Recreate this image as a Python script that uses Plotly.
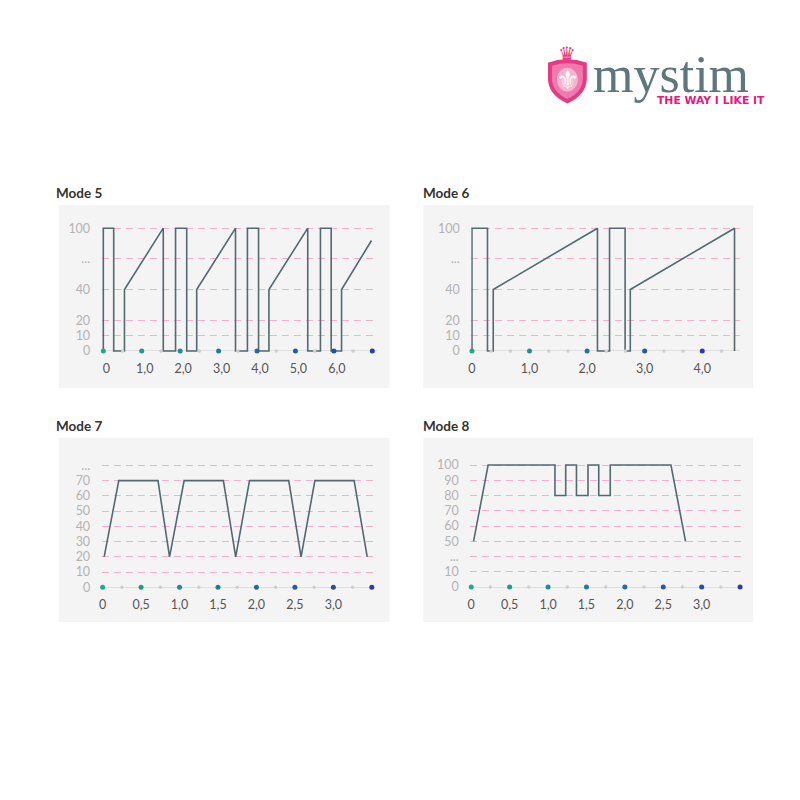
import numpy as np
import plotly.graph_objects as go

# ---------------- data ----------------
mode5_time = [0, 0, 0.27, 0.27, 0.55, 0.55, 1.56, 1.56, 1.88, 1.88, 2.17, 2.17, 2.43, 2.43,
              3.44, 3.44, 3.75, 3.75, 4.04, 4.04, 4.31, 4.31, 5.32, 5.32, 5.65, 5.65, 5.93,
              5.93, 6.20, 6.20, 6.98]
mode5_level = [0, 100, 100, 0, 0, 40, 100, 0, 0, 100, 100, 0, 0, 40, 100, 0, 0, 100, 100, 0,
               0, 40, 100, 0, 0, 100, 100, 0, 0, 40, 88]

mode6_time = [0, 0, 0.27, 0.27, 0.37, 0.37, 2.18, 2.18, 2.39, 2.39, 2.66, 2.66, 2.75, 2.75,
              4.56, 4.56]
mode6_level = [0, 100, 100, 0, 0, 40, 100, 0, 0, 100, 100, 0, 0, 40, 100, 0]

mode7_time = [0.02, 0.21, 0.72, 0.87, 1.06, 1.57, 1.73, 1.91, 2.42, 2.58, 2.76, 3.27, 3.44]
mode7_level = [20, 70, 70, 20, 70, 70, 20, 70, 70, 20, 70, 70, 20]

mode8_time = [0.03, 0.22, 1.09, 1.09, 1.23, 1.23, 1.37, 1.37, 1.52, 1.52, 1.66, 1.66, 1.81,
              1.81, 2.60, 2.79]
mode8_level = [50, 100, 100, 80, 80, 100, 100, 80, 80, 100, 100, 80, 80, 100, 100, 50]

# y scales: intensity levels -> evenly spaced rows
mode56_levels = [0, 10, 20, 40, 100]
mode56_rows = [0, 1, 2, 4, 8]
mode56_ytext = ["0", "10", "20", "40", "...", "100"]
mode56_yrows = [0, 1, 2, 4, 6, 8]

mode7_levels = [0, 10, 20, 30, 40, 50, 60, 70, 80]
mode7_rows = [0, 1, 2, 3, 4, 5, 6, 7, 8]
mode7_ytext = ["0", "10", "20", "30", "40", "50", "60", "70", "..."]
mode7_yrows = [0, 1, 2, 3, 4, 5, 6, 7, 8]

mode8_levels = [0, 10, 50, 100]
mode8_rows = [0, 1, 3, 8]
mode8_ytext = ["0", "10", "...", "50", "60", "70", "80", "90", "100"]
mode8_yrows = [0, 1, 2, 3, 4, 5, 6, 7, 8]

# x ticks
mode5_xticks = [0, 1, 2, 3, 4, 5, 6, 7]
mode5_xtext = ["0", "1,0", "2,0", "3,0", "4,0", "5,0", "6,0", ""]
mode5_minor = [0.5, 1.5, 2.5, 3.5, 4.5, 5.5, 6.5]

mode6_xticks = [0, 1, 2, 3, 4]
mode6_xtext = ["0", "1,0", "2,0", "3,0", "4,0"]
mode6_minor = [1/3, 2/3, 4/3, 5/3, 7/3, 8/3, 10/3, 11/3, 13/3]

mode78_xticks = [0, 0.5, 1, 1.5, 2, 2.5, 3, 3.5]
mode78_xtext = ["0", "0,5", "1,0", "1,5", "2,0", "2,5", "3,0", ""]
mode78_minor = [0.25, 0.75, 1.25, 1.75, 2.25, 2.75, 3.25]

titles = ["Mode 5", "Mode 6", "Mode 7", "Mode 8"]

# ---------------- styles / layout ----------------
W = H = 800
LINE_COLOR = "#51696f"
GRID_COLOR = "#f4b0cf"
PANEL_BG = "#f5f4f5"
ZERO_COLOR = "#dfdfdf"
FONT = "Lato, 'Open Sans', sans-serif"
C0 = np.array([30, 170, 134])
C1 = np.array([42, 62, 160])


def grad(n):
    out = []
    for i in range(n):
        f = i / (n - 1)
        c = C0 + (C1 - C0) * f
        out.append("rgb(%d,%d,%d)" % tuple(c))
    return out


panels = [
    dict(title=titles[0], t=mode5_time, lv=mode5_level, levels=mode56_levels, rows=mode56_rows,
         ytext=mode56_ytext, yrows=mode56_yrows, xt=mode5_xticks, xtx=mode5_xtext, minor=mode5_minor,
         x0=100.7, ppu=38.57, xl=99, xr=375, y0=352.7, rowpx=15.42, yt=222, shift=3,
         bg=(56, 206, 388, 390), tpos=(51, 193.5)),
    dict(title=titles[1], t=mode6_time, lv=mode6_level, levels=mode56_levels, rows=mode56_rows,
         ytext=mode56_ytext, yrows=mode56_yrows, xt=mode6_xticks, xtx=mode6_xtext, minor=mode6_minor,
         x0=470.7, ppu=57.8, xl=470, xr=740, y0=352.7, rowpx=15.42, yt=222, shift=0,
         bg=(422, 206, 753, 390), tpos=(420, 193.5)),
    dict(title=titles[2], t=mode7_time, lv=mode7_level, levels=mode7_levels, rows=mode7_rows,
         ytext=mode7_ytext, yrows=mode7_yrows, xt=mode78_xticks, xtx=mode78_xtext, minor=mode78_minor,
         x0=100.0, ppu=77.2, xl=99, xr=372, y0=590.3, rowpx=15.33, yt=458, shift=0,
         bg=(56, 440, 388, 625), tpos=(51, 428.5)),
    dict(title=titles[3], t=mode8_time, lv=mode8_level, levels=mode8_levels, rows=mode8_rows,
         ytext=mode8_ytext, yrows=mode8_yrows, xt=mode78_xticks, xtx=mode78_xtext, minor=mode78_minor,
         x0=470.0, ppu=77.1, xl=469, xr=741, y0=590.0, rowpx=15.33, yt=458, shift=0,
         bg=(422, 440, 753, 625), tpos=(420, 428.5)),
]

fig = go.Figure()
shapes = []
annotations = []
layout_axes = {}

for i, p in enumerate(panels):
    k = "" if i == 0 else str(i + 1)
    xa, ya = "x" + k, "y" + k
    yb = p["y0"] + 3
    xdom = [p["xl"] / W, p["xr"] / W]
    xrng = [(p["xl"] - p["x0"]) / p["ppu"], (p["xr"] - p["x0"]) / p["ppu"]]
    ydom = [1 - yb / H, 1 - p["yt"] / H]
    yrng = [(p["y0"] - yb) / p["rowpx"], (p["y0"] - p["yt"]) / p["rowpx"]]

    xdict = dict(
        domain=xdom, range=xrng, anchor=ya, showgrid=False, zeroline=False, showline=False,
        tickmode="array", tickvals=p["xt"], ticktext=p["xtx"], ticks="outside", ticklen=3,
        tickcolor="rgba(0,0,0,0)", tickfont=dict(family=FONT, size=12.5, color="#555555"),
        fixedrange=True)
    if p["shift"]:
        xdict["ticklabelshift"] = p["shift"]
    layout_axes["xaxis" + k] = xdict
    layout_axes["yaxis" + k] = dict(
        domain=ydom, range=yrng, anchor=xa, showgrid=True, gridcolor=GRID_COLOR, gridwidth=1,
        griddash="7px,5px", zeroline=True, zerolinecolor=ZERO_COLOR, zerolinewidth=1,
        showline=False, tickmode="array", tickvals=p["yrows"], ticktext=p["ytext"],
        ticks="outside", ticklen=8, tickcolor="rgba(0,0,0,0)",
        tickfont=dict(family=FONT, size=12.5, color="#b3b3b3"), fixedrange=True)

    yrow = np.interp(p["lv"], p["levels"], p["rows"])
    fig.add_trace(go.Scatter(x=p["t"], y=yrow, mode="lines", xaxis=xa, yaxis=ya,
                             line=dict(color=LINE_COLOR, width=1.6), showlegend=False,
                             hoverinfo="skip"))
    fig.add_trace(go.Scatter(x=p["minor"], y=[0] * len(p["minor"]), mode="markers",
                             xaxis=xa, yaxis=ya, cliponaxis=False,
                             marker=dict(size=3.5, color="#cfcfcf"), showlegend=False,
                             hoverinfo="skip"))
    fig.add_trace(go.Scatter(x=p["xt"], y=[0] * len(p["xt"]), mode="markers",
                             xaxis=xa, yaxis=ya, cliponaxis=False,
                             marker=dict(size=5, color=grad(len(p["xt"]))), showlegend=False,
                             hoverinfo="skip"))

    x1, y1, x2, y2 = p["bg"]
    shapes.append(dict(type="rect", xref="paper", yref="paper", x0=x1 / W, x1=x2 / W,
                       y0=1 - y2 / H, y1=1 - y1 / H, fillcolor=PANEL_BG, line=dict(width=0),
                       layer="below"))
    annotations.append(dict(text="<b>%s</b>" % p["title"], xref="paper", yref="paper",
                            x=p["tpos"][0] / W, y=1 - p["tpos"][1] / H, xanchor="left",
                            yanchor="middle", showarrow=False,
                            font=dict(family=FONT, size=13.5, color="#333333")))


# ---------------- logo ----------------
def path_from(points, close=True):
    s = ""
    for j, (cmd, pts) in enumerate(points):
        s += cmd + " " + " ".join("%.5f,%.5f" % (x / W, 1 - y / H) for x, y in pts) + " "
    return s + ("Z" if close else "")


shield = [("M", [(547, 63)]), ("Q", [(566, 56), (586, 63)]), ("L", [(586, 80)]),
          ("Q", [(585, 96), (566.5, 104)]), ("Q", [(548, 96), (547, 80)])]
inner = [("M", [(551, 66)]), ("Q", [(566.5, 61), (582, 66)]), ("L", [(582, 80)]),
         ("Q", [(581, 93), (566.5, 99.5)]), ("Q", [(552, 93), (551, 80)])]
shapes.append(dict(type="path", xref="paper", yref="paper", path=path_from(shield),
                   fillcolor="#e63a84", line=dict(width=0)))
shapes.append(dict(type="path", xref="paper", yref="paper", path=path_from(inner),
                   fillcolor="#f07aad", line=dict(width=0)))
shapes.append(dict(type="circle", xref="paper", yref="paper", x0=556 / W, x1=577 / W,
                   y0=1 - 92 / H, y1=1 - 68 / H, fillcolor="#f7b4d0", line=dict(width=0)))
annotations += [
    dict(text="⚜", xref="paper", yref="paper", x=566.5 / W, y=1 - 80 / H, showarrow=False,
         font=dict(family="DejaVu Sans", size=26, color="white"), xanchor="center",
         yanchor="middle"),
    dict(text="♛", xref="paper", yref="paper", x=566.5 / W, y=1 - 54 / H, showarrow=False,
         font=dict(family="DejaVu Sans", size=20, color="#e63a84"), xanchor="center",
         yanchor="middle"),
    dict(text="mystim", xref="paper", yref="paper", x=590 / W, y=1 - 75 / H, showarrow=False,
         font=dict(family="Liberation Serif", size=52, color="#5d777d"), xanchor="left",
         yanchor="middle"),
    dict(text="<b>THE WAY I LIKE IT</b>", xref="paper", yref="paper", x=654 / W,
         y=1 - 101.5 / H, showarrow=False,
         font=dict(family="DejaVu Sans", size=10.8, color="#e6197f"), xanchor="left",
         yanchor="middle"),
]

fig.update_layout(width=W, height=H, margin=dict(l=0, r=0, t=0, b=0),
                  paper_bgcolor="white", plot_bgcolor="rgba(0,0,0,0)",
                  shapes=shapes, annotations=annotations, showlegend=False, **layout_axes)

fig.write_html("out.html", config=dict(displayModeBar=False),
               post_script="document.body.style.margin='0';")
